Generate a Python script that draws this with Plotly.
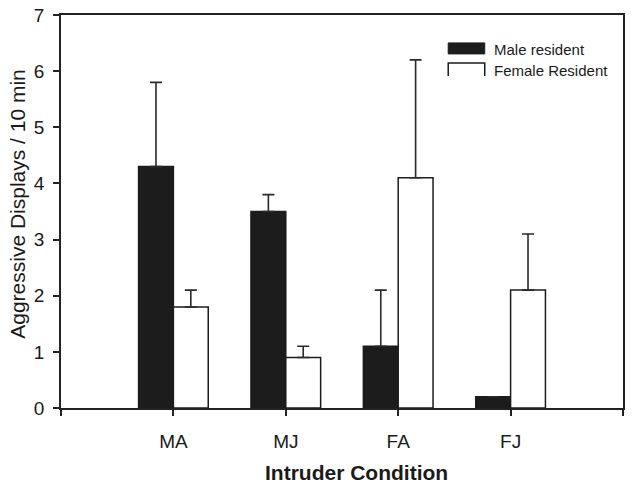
import plotly.graph_objects as go

categories = ["MA", "MJ", "FA", "FJ"]
male_values = [4.3, 3.5, 1.1, 0.2]
male_errors = [1.5, 0.3, 1.0, 0.0]
female_values = [1.8, 0.9, 4.1, 2.1]
female_errors = [0.3, 0.2, 2.1, 1.0]
y_ticks = [0, 1, 2, 3, 4, 5, 6, 7]

xpos = list(range(len(categories)))

fig = go.Figure()
fig.add_trace(go.Bar(
    x=xpos, y=male_values, name="Male resident",
    marker=dict(color="#1c1c1c", line=dict(color="#1c1c1c", width=1.5)),
    error_y=dict(type="data", array=male_errors, symmetric=False,
                 arrayminus=[0] * len(male_errors),
                 color="#2a2a2a", thickness=1.6, width=6),
))
fig.add_trace(go.Bar(
    x=xpos, y=female_values, name="Female Resident",
    marker=dict(color="white", line=dict(color="#1c1c1c", width=1.5)),
    error_y=dict(type="data", array=female_errors, symmetric=False,
                 arrayminus=[0] * len(female_errors),
                 color="#2a2a2a", thickness=1.6, width=6),
))

fig.update_layout(
    width=632, height=492,
    margin=dict(l=61, r=9, t=15, b=84),
    paper_bgcolor="white", plot_bgcolor="white",
    barmode="group", bargap=0.38, bargroupgap=0,
    showlegend=False,
    font=dict(family="Liberation Sans, Arial, sans-serif", color="#1a1a1a"),
    xaxis=dict(
        range=[-1, 4], automargin=False,
        tickmode="array",
        tickvals=[-1] + xpos + [4],
        ticktext=[""] + categories + [""],
        ticks="outside", ticklen=6, tickwidth=1.5, tickcolor="#222",
        showline=True, linecolor="#222", linewidth=1.5, mirror=True,
        showgrid=False, zeroline=False,
        tickfont=dict(size=19), ticklabelstandoff=9,
    ),
    yaxis=dict(
        range=[0, 7], automargin=False,
        tickmode="array", tickvals=y_ticks,
        ticks="outside", ticklen=6, tickwidth=1.5, tickcolor="#222",
        showline=True, linecolor="#222", linewidth=1.5, mirror=True,
        showgrid=False, zeroline=False,
        tickfont=dict(size=19), ticklabelstandoff=5,
    ),
)

# y-axis title
fig.add_annotation(
    text="Aggressive Displays / 10 min", xref="paper", yref="paper",
    x=-0.078, y=0.52, xanchor="center", yanchor="middle", textangle=-90,
    showarrow=False, font=dict(size=21),
)

# x-axis title
fig.add_annotation(
    text="<b>Intruder Condition</b>", xref="paper", yref="paper",
    x=0.525, y=-0.163, xanchor="center", yanchor="middle",
    showarrow=False, font=dict(size=21),
)

# manual legend
fig.add_shape(type="rect", xref="paper", yref="paper",
              x0=0.689, x1=0.754, y0=0.901, y1=0.929,
              fillcolor="#1c1c1c", line=dict(color="#1c1c1c", width=1))
fig.add_shape(type="path", xref="paper", yref="paper",
              path="M 0.689 0.845 L 0.689 0.878 L 0.754 0.878 L 0.754 0.845",
              line=dict(color="#1c1c1c", width=1.5))
fig.add_annotation(text="Male resident", xref="paper", yref="paper",
                   x=0.767, y=0.912, xanchor="left", yanchor="middle",
                   showarrow=False, font=dict(size=15))
fig.add_annotation(text="Female Resident", xref="paper", yref="paper",
                   x=0.767, y=0.858, xanchor="left", yanchor="middle",
                   showarrow=False, font=dict(size=15))

fig.write_html("out.html",
               config={"displayModeBar": False},
               post_script="document.body.style.margin='0';document.body.style.overflow='hidden';")
